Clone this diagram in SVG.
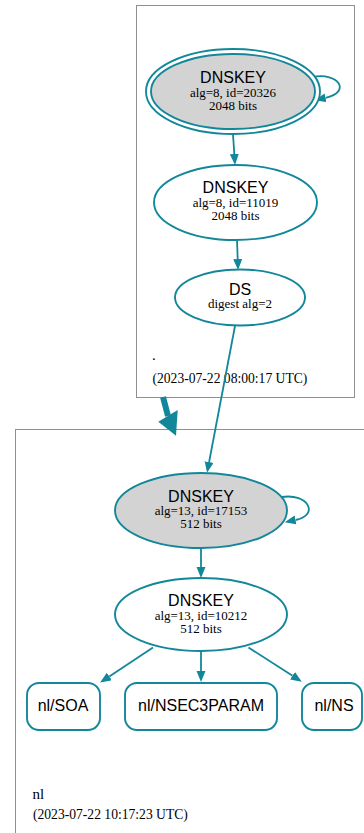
<svg xmlns="http://www.w3.org/2000/svg" width="364" height="833" viewBox="0 0 364 833">
  <style>
    .cluster { fill: #ffffff; stroke: #8f8f8f; stroke-width: 1; }
    .node { stroke: #13879a; stroke-width: 1.9; fill: #ffffff; }
    .ksk { fill: #d3d3d3; }
    .edge { fill: none; stroke: #13879a; stroke-width: 1.8; }
    .title { font-family: "Liberation Sans", Arial, sans-serif; font-size: 16px; fill: #000; text-anchor: middle; }
    .detail { font-family: "Liberation Serif", "Times New Roman", serif; font-size: 13px; fill: #000; text-anchor: middle; }
    .zone { font-family: "Liberation Serif", "Times New Roman", serif; font-size: 15px; fill: #000; }
    .stamp { font-family: "Liberation Serif", "Times New Roman", serif; font-size: 13.6px; fill: #000; }
  </style>
  <defs>
    <marker id="arrow" markerUnits="userSpaceOnUse" markerWidth="12" markerHeight="10" refX="0" refY="4.5" orient="auto">
      <path d="M0,0 L11,4.5 L0,9 Z" fill="#13879a"/>
    </marker>
  </defs>

  <rect width="364" height="833" fill="#ffffff"/>

  <!-- zone clusters -->
  <g id="cluster-root">
    <rect class="cluster" x="136.5" y="5.5" width="218" height="392"/>
    <text class="zone" x="152" y="360">.</text>
    <text class="stamp" x="152.5" y="383">(2023-07-22 08:00:17 UTC)</text>
  </g>
  <g id="cluster-nl">
    <rect class="cluster" x="15.5" y="429.5" width="380" height="430"/>
    <text class="zone" x="32.5" y="799">nl</text>
    <text class="stamp" x="33" y="819">(2023-07-22 10:17:23 UTC)</text>
  </g>

  <!-- connectors -->
  <g id="edges">
    <path class="edge" d="M233,134.5 L234.3,154" marker-end="url(#arrow)"/>
    <path class="edge" d="M313,77 C338,72 352,92 325.5,97.8" marker-end="url(#arrow)"/>
    <path class="edge" d="M237,240 L237.7,259" marker-end="url(#arrow)"/>
    <path class="edge" d="M235,326 L209.1,462" marker-end="url(#arrow)"/>
    <path class="edge" d="M282,497 C308,493 320,515 295.5,520" marker-end="url(#arrow)"/>
    <path class="edge" d="M201,548 L201,567" marker-end="url(#arrow)"/>
    <path class="edge" d="M153,647.5 L109.3,676.5" marker-end="url(#arrow)"/>
    <path class="edge" d="M201,651 L201,671" marker-end="url(#arrow)"/>
    <path class="edge" d="M248.5,647.5 L292.5,675.7" marker-end="url(#arrow)"/>
    <!-- delegation from root zone to nl -->
    <g id="delegation">
      <path d="M163,397 L168,416" fill="none" stroke="#13879a" stroke-width="6"/>
      <polygon points="158.3,421.7 177.7,410 176,435.7" fill="#13879a"/>
    </g>
  </g>

  <!-- root zone nodes -->
  <g id="dnskey-20326">
    <ellipse class="node" cx="233" cy="91.5" rx="87" ry="42.5"/>
    <ellipse class="node ksk" cx="233" cy="91.5" rx="82" ry="37.5"/>
    <text class="title" x="233" y="83">DNSKEY</text>
    <text class="detail" x="233" y="96.5">alg=8, id=20326</text>
    <text class="detail" x="233" y="109.5">2048 bits</text>
  </g>
  <g id="dnskey-11019">
    <ellipse class="node" cx="235.5" cy="202.5" rx="81.5" ry="37.5"/>
    <text class="title" x="235.5" y="193">DNSKEY</text>
    <text class="detail" x="235.5" y="206.5">alg=8, id=11019</text>
    <text class="detail" x="235.5" y="219.5">2048 bits</text>
  </g>
  <g id="ds-nl">
    <ellipse class="node" cx="240" cy="297.5" rx="65" ry="28"/>
    <text class="title" x="240" y="294.5">DS</text>
    <text class="detail" x="240" y="307.5">digest alg=2</text>
  </g>

  <!-- nl zone nodes -->
  <g id="dnskey-17153">
    <ellipse class="node ksk" cx="201" cy="510.5" rx="86" ry="37.5"/>
    <text class="title" x="201" y="501.5">DNSKEY</text>
    <text class="detail" x="201" y="514.5">alg=13, id=17153</text>
    <text class="detail" x="201" y="527.5">512 bits</text>
  </g>
  <g id="dnskey-10212">
    <ellipse class="node" cx="201" cy="614.5" rx="86" ry="36.5"/>
    <text class="title" x="201" y="606">DNSKEY</text>
    <text class="detail" x="201" y="619.5">alg=13, id=10212</text>
    <text class="detail" x="201" y="632.5">512 bits</text>
  </g>
  <g id="rr-soa">
    <rect class="node" x="27" y="683" width="73" height="47" rx="12"/>
    <text class="title" x="63" y="711">nl/SOA</text>
  </g>
  <g id="rr-nsec3param">
    <rect class="node" x="125" y="683" width="152" height="47" rx="12"/>
    <text class="title" x="201" y="711">nl/NSEC3PARAM</text>
  </g>
  <g id="rr-ns">
    <rect class="node" x="302" y="683" width="60" height="47" rx="12"/>
    <text class="title" x="334" y="711">nl/NS</text>
  </g>
</svg>
